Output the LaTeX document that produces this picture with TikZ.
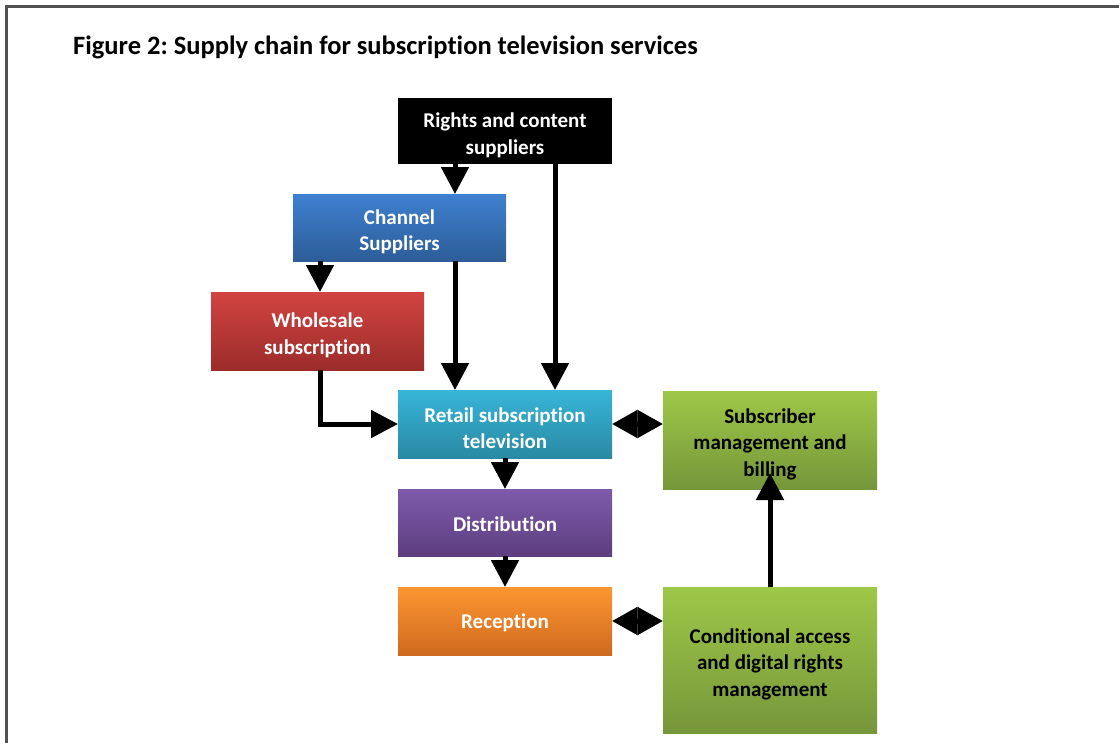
\documentclass[tikz,border=0pt]{standalone}
\usepackage{fontspec}
\setmainfont{Carlito}[Ligatures=NoCommon]
\frenchspacing
\usetikzlibrary{arrows.meta,calc}
\newcommand\tupa{\rule{0pt}{23pt}}
\newcommand\tupb{\rule{0pt}{18pt}}
\definecolor{frame}{HTML}{505050}
\definecolor{chanT}{HTML}{3E80D0}\definecolor{chanB}{HTML}{2D5D98}
\definecolor{wholT}{HTML}{D24441}\definecolor{wholB}{HTML}{9B2C2A}
\definecolor{retT}{HTML}{38B5D8}\definecolor{retB}{HTML}{2989A3}
\definecolor{purT}{HTML}{7E5BAB}\definecolor{purB}{HTML}{5D3E7F}
\definecolor{orT}{HTML}{FD9631}\definecolor{orB}{HTML}{CE6A1F}
\definecolor{grT}{HTML}{9EC848}\definecolor{grB}{HTML}{76963A}
\tikzset{
  box/.style={rectangle, inner sep=0pt, outer sep=0pt, align=center,
    font=\fontsize{21}{26.5}\selectfont\bfseries, minimum width=214pt},
  wtext/.style={text=white},
  btext/.style={text=black},
  arr/.style={line width=5pt, -{Triangle[width=27pt,length=27pt]}},
  dia/.style={line width=5pt, {Triangle[width=27pt,length=25.5pt]}-{Triangle[width=27pt,length=25.5pt]}},
}
\begin{document}
\begin{tikzpicture}[x=1pt,y=-1pt]
\useasboundingbox (0,0) rectangle (1119,742);
\fill[white] (0,0) rectangle (1119,742);
\draw[frame, line width=2.2pt] (6.5,745) -- (6.5,6.5) -- (1122,6.5);
\node[anchor=base west, inner sep=0pt, font=\fontsize{26.5}{30}\selectfont\bfseries] (title) at (73,54) {Figure 2: Supply chain for subscription television services};

\node[box, wtext, fill=black, minimum height=66pt] (rights) at (505,131) {\tupa Rights and content\\suppliers};
\node[box, wtext, top color=chanT, bottom color=chanB, minimum width=213pt, minimum height=67pt] (channel) at (399.5,227.5) {\tupa Channel\\Suppliers};
\node[box, wtext, top color=wholT, bottom color=wholB, minimum width=213pt, minimum height=78pt] (whole) at (317.5,331) {\tupa Wholesale\\subscription};
\node[box, wtext, top color=retT, bottom color=retB, minimum height=68pt] (retail) at (505,424) {\tupa Retail subscription\\television};
\node[box, btext, top color=grT, bottom color=grB, minimum height=98pt] (sub) at (770,440) {\tupa Subscriber\\management and\\billing};
\node[box, wtext, top color=purT, bottom color=purB, minimum height=67pt] (dist) at (505,522.5) {\tupb Distribution};
\node[box, wtext, top color=orT, bottom color=orB, minimum height=68pt] (recep) at (505,621) {\tupb Reception};
\node[box, btext, top color=grT, bottom color=grB, minimum height=146pt] (cond) at (770,660) {\tupa Conditional access\\and digital rights\\management};

\coordinate (xa) at (455,0);
\coordinate (xb) at (555,0);
\coordinate (xc) at (320,0);

\draw[arr] (rights.south -| xa) -- (channel.north -| xa);
\draw[arr] (rights.south -| xb) -- (retail.north -| xb);
\draw[arr] (channel.south -| xc) -- (whole.north -| xc);
\draw[arr] (channel.south -| xa) -- (retail.north -| xa);
\draw[arr, line join=miter] (whole.south -| xc) |- (retail.west);
\draw[arr] (retail.south) -- (dist.north);
\draw[arr] (dist.south) -- (recep.north);
\draw[arr] (cond.north) -- ([yshift=16pt]sub.south);
\draw[dia] (retail.east) -- (retail.east -| sub.west);
\draw[dia] (recep.east) -- (recep.east -| cond.west);
\end{tikzpicture}
\end{document}
